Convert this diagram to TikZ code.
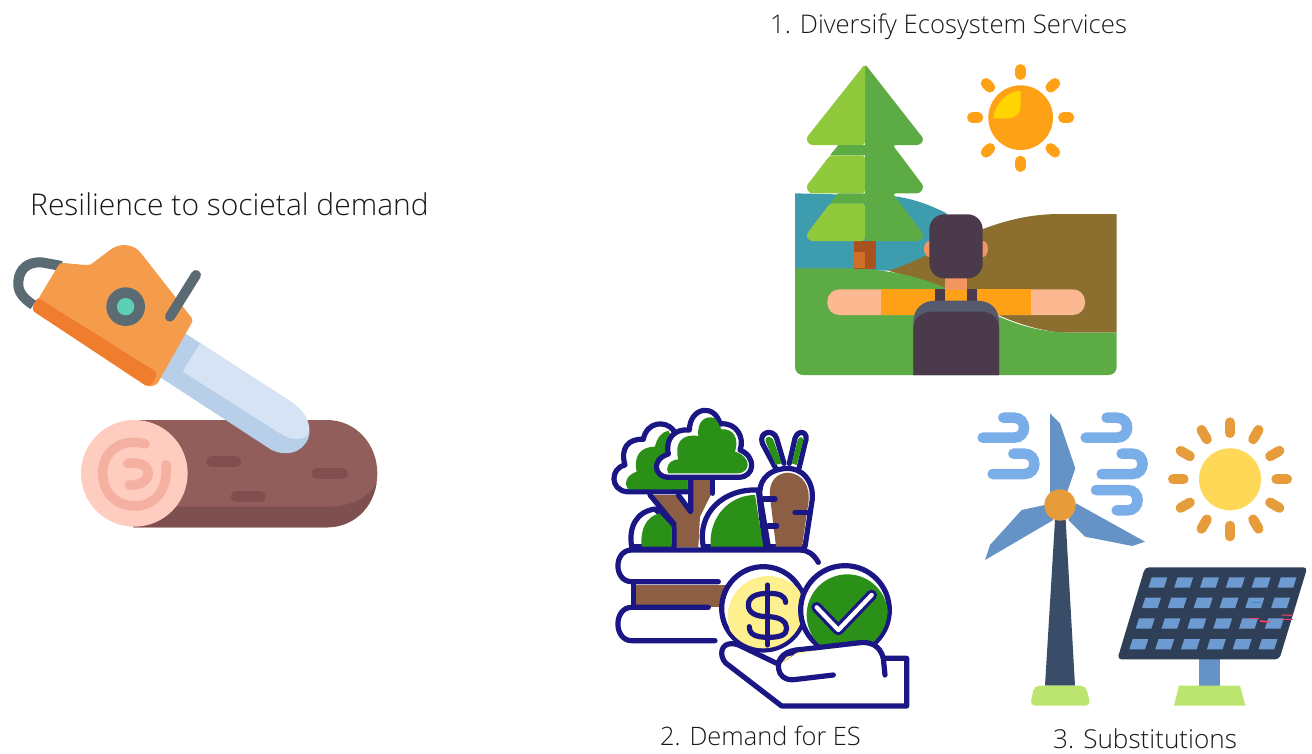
\documentclass[tikz,border=0pt]{standalone}
\usepackage{fontspec}
\usetikzlibrary{calc}
\setmainfont{Open Sans}[UprightFont=* Light]
\definecolor{sawgray}{HTML}{5A6B74}
\definecolor{sawor}{HTML}{F49C4C}
\definecolor{sawdk}{HTML}{F07D2D}
\definecolor{sawteal}{HTML}{5DCFB4}
\definecolor{bladel}{HTML}{D6E3F4}
\definecolor{bladed}{HTML}{B7CFE9}
\definecolor{logb}{HTML}{925E5B}
\definecolor{logd}{HTML}{7E4F4F}
\definecolor{knot}{HTML}{824F50}
\definecolor{face}{HTML}{FFCDBF}
\definecolor{ring}{HTML}{F4B0A0}
\definecolor{lake}{HTML}{3D9DAE}
\definecolor{hill}{HTML}{8C6F2F}
\definecolor{grassg}{HTML}{5DAB45}
\definecolor{leafl}{HTML}{90C93C}
\definecolor{sunor}{HTML}{FEA116}
\definecolor{sunye}{HTML}{FFD400}
\definecolor{skin}{HTML}{FCB890}
\definecolor{neck}{HTML}{F2955F}
\definecolor{hair}{HTML}{4A3A4B}
\definecolor{pack}{HTML}{565A6F}
\definecolor{trunkd}{HTML}{A85220}
\definecolor{trunkl}{HTML}{D07028}
\definecolor{navy}{HTML}{1A1683}
\definecolor{icong}{HTML}{2B9018}
\definecolor{iconb}{HTML}{8C5F45}
\definecolor{coiny}{HTML}{FFF08F}
\definecolor{wind}{HTML}{7AAEE8}
\definecolor{blade}{HTML}{6693C6}
\definecolor{hubor}{HTML}{E79C3C}
\definecolor{tower}{HTML}{3A4D68}
\definecolor{baseg}{HTML}{BCE570}
\definecolor{panel}{HTML}{2F3F57}
\definecolor{cell}{HTML}{6D9AD0}
\definecolor{sun3}{HTML}{FFD857}
\definecolor{glitchr}{HTML}{FF4060}
\definecolor{glitchb}{HTML}{2F8FC0}
\tikzset{
  zoomed/.style={x=0.33333pt,y=-0.33333pt},
  label text/.style={inner sep=0pt,anchor=base west,text=black!90},
  ray/.style={line width=10.5pt,line cap=round},
  nav/.style={draw=navy,line width=5.2pt,line cap=round,line join=round},
  grayline/.style={draw=sawgray,line width=10pt,line cap=round},
  windline/.style={draw=wind,line width=10.5pt,line cap=round},
}
\begin{document}
\begin{tikzpicture}[x=1pt,y=-1pt]
\useasboundingbox (0,0) rectangle (1312,753);
\fill[white] (0,0) rectangle (1312,753);

\node[label text,font=\fontsize{30}{32}\selectfont] (t0) at (30,215) {Resilience to societal demand};
\node[label text,font=\fontsize{25.7}{28}\selectfont] (t1) at (770,33) {1. Diversify Ecosystem Services};
\node[label text,font=\fontsize{25.4}{28}\selectfont] (t2) at (660,745) {2. Demand for ES};
\node[label text,font=\fontsize{26.1}{28}\selectfont] (t3) at (1053,748) {3. Substitutions};

%% ---------- chainsaw and log
\begin{scope}[shift={(0,170)},zoomed]
  \path[draw=sawgray,line width=10pt] (100,405) .. controls (70,385) and (52,365) .. (55,335) .. controls (58,295) and (85,275) .. (125,277) -- (185,288);
  \begin{scope}
    \clip (400,750) -- (980,750) .. controls (1070,750) and (1132,825) .. (1132,910) .. controls (1132,1000) and (1070,1072) .. (980,1072) -- (400,1072) -- cycle;
    \fill[logb] (380,740) rectangle (1140,1080);
    \fill[logd] (400,1010) -- (980,1010) .. controls (1050,1010) and (1110,985) .. (1135,930) -- (1140,1080) -- (400,1080) -- cycle;
  \end{scope}
  \foreach \a/\b/\y in {635/708/874,950/1028/910,708/782/980}
    \draw[knot,line width=10.5pt,line cap=round] (\a,\y) -- (\b,\y);
  \fill[face] (403,910) circle[radius=160];
  \draw[ring,line width=9.5pt,line cap=round] (435,822) .. controls (360,800) and (308,850) .. (308,908) .. controls (308,970) and (350,1008) .. (405,1008) .. controls (460,1008) and (505,965) .. (498,885);
  \draw[ring,line width=9.5pt,line cap=round] (383,880) .. controls (425,875) and (445,890) .. (445,910) .. controls (445,930) and (420,948) .. (388,945);
  \fill[bladed] (555,490) -- (880,700) .. controls (925,735) and (935,775) .. (925,805) .. controls (905,850) and (860,860) .. (815,840) -- (478,620) -- cycle;
  \fill[bladel] (600,520) -- (880,700) .. controls (925,735) and (932,770) .. (925,792) .. controls (905,815) and (870,810) .. (840,790) -- (548,605) -- cycle;
  \fill[sawor,rounded corners=3pt] (180,278) -- (255,285) .. controls (270,285) and (275,282) .. (290,270) -- (330,240) .. controls (360,220) and (400,222) .. (425,252) -- (580,450) -- (470,645) -- (445,650) -- (95,420) -- cycle;
  \fill[sawdk,rounded corners=3pt] (112,382) -- (472,608) -- (458,640) -- (442,650) -- (95,420) -- cycle;
  \fill[sawgray] (377,410) circle[radius=58];
  \fill[sawteal] (377,410) circle[radius=26];
  \draw[grayline] (510,440) -- (588,315);
\end{scope}

%% ---------- landscape
\begin{scope}[shift={(780,50)},zoomed]
  \fill[lake] (45,430) -- (330,437) .. controls (400,445) and (450,465) .. (500,490) -- (500,600) .. controls (440,625) and (380,645) .. (330,662) -- (45,660) -- cycle;
  \fill[hill] (325,662) .. controls (460,625) and (610,492) .. (840,492) -- (1010,492) -- (1010,848) -- (840,848) .. controls (700,830) and (600,770) .. (500,715) -- cycle;
  \fill[grassg] (45,655) -- (220,655) .. controls (330,660) and (420,680) .. (500,715) .. controls (640,800) and (740,848) .. (880,848) -- (1010,848) -- (1010,950) .. controls (1010,965) and (1000,975) .. (985,975) -- (70,975) .. controls (55,975) and (45,965) .. (45,950) -- cycle;
  % trunk
  \fill[trunkd] (222,573) rectangle (287,657);
  \fill[trunkl] (222,605) rectangle (255,655);
  % tree
  \fill[grassg,rounded corners=3pt] (255,42) -- (432,268) -- (420,285) -- (338,285) -- (432,410) -- (420,430) -- (338,430) -- (432,555) -- (420,573) -- (255,573) -- cycle;
  \fill[leafl,rounded corners=3pt] (255,42) -- (78,265) -- (88,285) -- (255,285) -- cycle;
  \fill[grassg] (175,285) -- (150,316) -- (255,316) -- (255,285) -- cycle;
  \fill[leafl,rounded corners=3pt] (150,316) -- (78,410) -- (88,430) -- (255,430) -- (255,316) -- cycle;
  \fill[grassg] (175,430) -- (150,460) -- (255,460) -- (255,430) -- cycle;
  \fill[leafl,rounded corners=3pt] (150,460) -- (78,555) -- (88,573) -- (255,573) -- (255,460) -- cycle;
  % sun
  \fill[sunor] (722,203) circle[radius=97];
  \fill[sunye] (722,122) -- (722,170) .. controls (722,192) and (702,205) .. (685,205) -- (640,205) .. controls (645,160) and (680,125) .. (722,122) -- cycle;
  \foreach \a/\b/\c/\d in {722/58/722/74,722/333/722/350,577/203/594/203,850/203/867/203,618/100/630/112,825/100/812/112,618/307/630/295,825/307/812/295}
    \draw[sunor,ray] (\a,\b) -- (\c,\d);
  % person
  \fill[skin,rounded corners=12pt] (142,718) rectangle (915,795);
  \fill[sunor] (302,718) rectangle (752,795);
  \fill[neck] (495,680) rectangle (560,720);
  \fill[hair] (465,718) rectangle (495,760);
  \fill[hair] (560,718) rectangle (592,760);
  \fill[pack] (400,975) -- (400,815) .. controls (400,775) and (430,752) .. (465,752) -- (590,752) .. controls (630,752) and (657,775) .. (657,815) -- (657,975) -- cycle;
  \fill[hair] (400,975) -- (400,835) .. controls (400,805) and (425,785) .. (455,785) -- (605,785) .. controls (635,785) and (657,805) .. (657,835) -- (657,975) -- cycle;
  \fill[neck] (448,597) ellipse[x radius=16,y radius=24];
  \fill[neck] (608,597) ellipse[x radius=16,y radius=24];
  \fill[hair,rounded corners=15pt] (448,493) rectangle (608,685);
\end{scope}

%% ---------- demand icon
\begin{scope}[shift={(600,400)},zoomed]
  % rear crown
  \path[fill=white,nav] (270,275) -- (80,275) .. controls (30,270) and (30,205) .. (75,195) .. controls (60,145) and (85,115) .. (130,118) .. controls (140,65) and (195,60) .. (220,90) -- (270,240) -- cycle;
  \fill[icong] (262,268) -- (85,268) .. controls (70,250) and (80,225) .. (110,215) .. controls (100,170) and (120,140) .. (165,140) .. controls (170,115) and (185,95) .. (205,92) -- (262,200) -- cycle;
  % bushes and trunk
  \fill[iconb] (150,285) -- (230,285) -- (272,340) -- (272,240) -- (335,240) -- (335,280) -- (300,350) -- (295,442) -- (225,442) -- (225,375) -- cycle;
  \path[fill=white] (235,285) -- (265,285) -- (265,320) -- cycle;
  \path[fill=white,nav] (95,440) .. controls (85,380) and (110,335) .. (165,327) -- (222,380) -- (222,440) -- cycle;
  \fill[icong] (125,440) .. controls (120,385) and (140,350) .. (178,340) -- (215,380) -- (215,440) -- cycle;
  \draw[nav] (150,285) -- (222,372);
  \draw[nav] (235,285) -- (272,335) -- (272,240);
  \draw[nav] (338,240) -- (338,280);
  \path[fill=white,nav] (310,440) .. controls (290,340) and (370,265) .. (475,270) -- (495,440) -- cycle;
  \fill[icong] (332,440) .. controls (325,350) and (390,285) .. (465,285) -- (490,440) -- cycle;
  % front crown
  \path[fill=white,nav] (415,232) -- (205,232) .. controls (165,232) and (150,180) .. (205,162) .. controls (195,115) and (225,85) .. (268,90) .. controls (270,20) and (345,10) .. (360,72) .. controls (410,65) and (435,115) .. (420,150) .. controls (470,170) and (465,232) .. (415,232) -- cycle;
  \fill[icong] (410,220) -- (205,220) .. controls (195,205) and (205,180) .. (235,178) .. controls (222,130) and (245,100) .. (295,108) .. controls (290,60) and (320,45) .. (345,55) .. controls (355,65) and (358,80) .. (365,88) .. controls (400,85) and (418,115) .. (405,155) .. controls (455,170) and (455,220) .. (410,220) -- cycle;
  % carrot
  \path[fill=white,nav] (505,440) -- (480,290) .. controls (475,250) and (495,210) .. (560,205) .. controls (620,205) and (645,260) .. (635,310) -- (615,440) -- cycle;
  \fill[iconb] (528,440) -- (510,290) .. controls (505,245) and (530,218) .. (565,218) .. controls (610,222) and (632,260) .. (625,310) -- (606,440) -- cycle;
  \draw[nav] (490,297) -- (525,297);
  \draw[nav] (585,338) -- (630,338);
  \draw[nav] (505,378) -- (530,378);
  \path[fill=white,nav] (527,205) -- (487,130) .. controls (475,95) and (520,85) .. (530,115) -- (552,190);
  \path[fill=white,nav] (568,190) -- (585,115) .. controls (595,85) and (630,95) .. (615,130) -- (597,205);
  \fill[icong] (527,195) -- (497,125) .. controls (495,105) and (515,105) .. (522,125) -- (545,190) -- cycle;
  \fill[icong] (575,190) -- (593,120) .. controls (600,105) and (615,110) .. (608,130) -- (590,195) -- cycle;
  % crate
  \fill[iconb] (105,555) rectangle (392,620);
  \path[fill=white,nav] (655,487) .. controls (640,460) and (620,450) .. (600,450) -- (95,450) .. controls (40,450) and (40,545) .. (95,545) -- (355,545);
  \draw[nav] (100,550) -- (100,620);
  \path[fill=white,nav] (325,622) -- (95,622) .. controls (40,622) and (40,722) .. (95,722) -- (345,722);
  % coin
  \path[fill=white,nav] (490,625) circle[radius=125];
  \begin{scope}
    \clip (490,625) circle[radius=120];
    \fill[coiny] (505,650) circle[radius=122];
  \end{scope}
  \draw[nav] (503,555) -- (503,735);
  \draw[nav] (557,607) .. controls (555,585) and (535,580) .. (505,580) .. controls (470,580) and (445,590) .. (445,615) .. controls (445,640) and (470,650) .. (503,650) .. controls (540,650) and (560,665) .. (560,685) .. controls (560,705) and (540,712) .. (505,712) .. controls (470,712) and (448,705) .. (448,680);
  % check coin
  \path[fill=white,nav] (735,630) circle[radius=133];
  \begin{scope}
    \clip (735,630) circle[radius=128];
    \fill[icong] (742,645) circle[radius=122];
  \end{scope}
  \draw[navy,line width=10.7pt,line cap=round,line join=round] (650,622) -- (715,690) -- (815,585);
  \draw[white,line width=4.3pt,line cap=round,line join=round] (650,622) -- (715,690) -- (815,585);
  % hand
  \path[fill=white,nav] (365,760) .. controls (365,730) and (395,725) .. (420,737) -- (530,790) -- (590,750) -- (780,728) .. controls (810,725) and (840,735) .. (850,775) -- (920,775) -- (920,918) -- (545,918) -- (385,795) .. controls (375,790) and (365,775) .. (365,760) -- cycle;
  \fill[coiny] (545,790) -- (590,758) -- (640,752) -- (560,770) -- cycle;
  \draw[nav] (855,825) -- (850,775);
  \draw[nav] (590,750) .. controls (545,755) and (525,785) .. (540,820) .. controls (550,838) and (570,842) .. (590,838) -- (700,825);
\end{scope}

%% ---------- wind and sun
\begin{scope}[shift={(970,405)},zoomed]
  \draw[windline] (38,98) -- (132,98) .. controls (172,98) and (172,38) .. (132,38) -- (100,38);
  \draw[windline] (68,207) -- (163,207) .. controls (203,207) and (203,146) .. (163,146) -- (130,146);
  \draw[windline] (347,98) -- (440,98) .. controls (482,98) and (482,38) .. (440,38) -- (410,38);
  \draw[windline] (395,207) -- (487,207) .. controls (528,207) and (528,146) .. (487,146) -- (455,146);
  \draw[windline] (378,255) -- (472,255) .. controls (513,255) and (513,316) .. (472,316) -- (440,316);
  \fill[blade] (240,25) -- (270,55) -- (316,190) -- (290,265) -- (240,265) -- cycle;
  \fill[blade] (225,300) -- (155,315) -- (60,420) -- (45,465) -- (250,345) -- cycle;
  \fill[blade] (318,295) -- (525,410) -- (487,423) -- (345,395) -- (295,345) -- cycle;
  \fill[tower] (255,345) -- (287,345) -- (315,842) -- (225,842) -- cycle;
  \fill[hubor] (270,300) circle[radius=47];
  \fill[baseg,rounded corners=5pt] (180,902) -- (193,842) -- (347,842) -- (362,902) -- cycle;
  \fill[blade] (688,760) rectangle (750,845);
  \fill[baseg] (612,902) -- (627,842) -- (810,842) -- (826,902) -- cycle;
  \fill[panel,rounded corners=4pt] (525,487) -- (1012,487) -- (928,763) -- (442,763) -- cycle;
  \foreach \r/\yt/\off in {0/517/0,1/578/19,2/640/38,3/702/57}
    \foreach \c in {0,...,5}
      \fill[cell] ({545-\off+77.5*\c},\yt) -- ++(47,0) -- ++(-10,31) -- ++(-47,0) -- cycle;
  \draw[glitchr,line width=0.8pt] (838,641) -- (868,641);
  \draw[glitchr,line width=1.6pt] (870,648) -- (900,651);
  \draw[glitchr,line width=1pt] (935,630) -- (968,631);
  \draw[glitchr,line width=0.7pt] (935,642) -- (968,642);
  \draw[glitchb,line width=0.8pt] (845,593) -- (870,593);
  \fill[sun3] (780,223) circle[radius=93];
  \foreach \ang in {0,30,...,330}
    \draw[hubor,line width=10pt,line cap=round] ($(780,223)+(\ang:139)$) -- ($(780,223)+(\ang:171)$);
\end{scope}
\end{tikzpicture}
\end{document}
